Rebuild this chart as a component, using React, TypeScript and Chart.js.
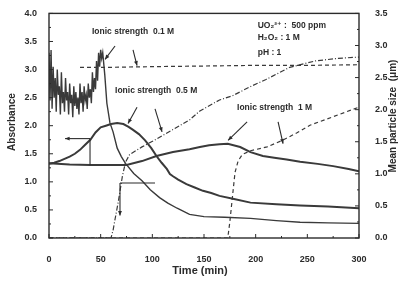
import React, { useEffect, useRef } from "react";
import { Chart, registerables } from "chart.js";

Chart.register(...registerables);

// ---- Data ----
// Absorbance, ionic strength 0.1 M
const abs01Time = [
  0, 1, 2, 3, 4, 5, 6, 7, 8, 9, 10, 11, 12, 13, 14, 15, 16, 17, 18, 19, 20,
  21, 22, 23, 24, 25, 26, 27, 28, 29, 30, 31, 32, 33, 34, 35, 36, 37, 38, 39, 40,
  41, 42, 43, 44, 45, 46, 47, 48, 49, 50, 51, 52, 54, 56, 59, 62, 66, 70, 74, 82, 90,
  98, 107, 115, 124, 136, 150, 170, 195, 220, 243, 270, 300,
];
const abs01 = [
  3.3, 2.45, 3.35, 2.3, 3.05, 2.5, 2.85, 2.25, 3.0, 2.55, 2.7, 2.2, 2.95, 2.4, 2.6, 2.25, 2.85, 2.45, 2.6, 2.2, 2.75,
  2.4, 2.55, 2.15, 2.7, 2.35, 2.6, 2.3, 2.5, 2.2, 2.75, 2.4, 2.6, 2.25, 2.7, 2.45, 2.55, 2.3, 2.75, 2.5, 2.65,
  2.4, 2.95, 2.6, 2.85, 2.65, 3.15, 2.8, 3.3, 3.05, 3.35, 3.2, 3.3, 2.9, 2.4, 2.05, 1.89, 1.6, 1.45, 1.33, 1.15, 1.02,
  0.86, 0.72, 0.62, 0.53, 0.42, 0.38, 0.37, 0.35, 0.31, 0.28, 0.27, 0.26,
];

// Absorbance, ionic strength 0.5 M
const abs05Time = [
  0, 5, 10, 15, 20, 25, 30, 35, 40, 45, 50, 55, 60, 66, 72, 77, 81, 87, 93, 99,
  104, 109, 114, 117, 120, 125, 133, 141, 149, 157, 165, 178, 195, 220, 243, 270, 300,
];
const abs05 = [
  1.32, 1.34, 1.37, 1.41, 1.45, 1.5, 1.57, 1.66, 1.75, 1.88, 1.97, 2.0, 2.03, 2.05, 2.03, 1.98, 1.93, 1.85, 1.74, 1.6,
  1.46, 1.34, 1.23, 1.14, 1.1, 1.04, 0.96, 0.9, 0.84, 0.8, 0.75, 0.7, 0.63, 0.6, 0.58, 0.56, 0.53,
];

// Absorbance, ionic strength 1 M
const abs1Time = [0, 20, 40, 60, 75, 90, 104, 120, 136, 146, 155, 165, 173, 185, 195, 207, 218, 230, 243, 260, 275, 290, 300];
const abs1 = [1.33, 1.31, 1.3, 1.3, 1.3, 1.37, 1.46, 1.53, 1.58, 1.62, 1.65, 1.67, 1.68, 1.62, 1.53, 1.46, 1.43, 1.4, 1.36, 1.32, 1.28, 1.23, 1.19];

// Mean particle size (µm), 0.1 M
const size01Time = [30, 60, 100, 150, 200, 250, 300];
const size01 = [2.66, 2.66, 2.67, 2.68, 2.69, 2.69, 2.7];

// Mean particle size (µm), 0.5 M
const size05Time = [0, 60, 62, 64, 67, 71, 74, 78, 90, 104, 120, 136, 146, 165, 178, 195, 210, 233, 258, 280, 300];
const size05 = [0, 0, 0.12, 0.3, 0.56, 0.96, 1.18, 1.3, 1.42, 1.54, 1.69, 1.84, 1.98, 2.15, 2.22, 2.36, 2.47, 2.66, 2.76, 2.8, 2.82];

// Mean particle size (µm), 1 M
const size1Time = [0, 173, 175, 177, 180, 183, 187, 195, 211, 227, 240, 253, 275, 300];
const size1 = [0, 0, 0.25, 0.56, 1.02, 1.2, 1.3, 1.36, 1.42, 1.53, 1.64, 1.76, 1.89, 2.04];

// Tick values
const xTicks = [0, 50, 100, 150, 200, 250, 300];
const yTicks = [0, 0.5, 1, 1.5, 2, 2.5, 3, 3.5, 4];
const y2Ticks = [0, 0.5, 1, 1.5, 2, 2.5, 3, 3.5];

// Annotation arrows in data units (time, absorbance)
const arrows: number[][] = [
  [63.9, 3.42, 54.2, 3.18],
  [81.3, 3.35, 85.2, 3.07],
  [85.2, 2.33, 76.5, 2.04],
  [102.6, 2.3, 109.4, 1.89],
  [191.7, 2.07, 173.3, 1.74],
  [221.7, 2.07, 226.5, 1.68],
];
// Corner arrows: [cornerT, cornerA, startT, startA, endT, endA]
const cornerLines: number[][] = [
  [39.7, 1.77, 39.7, 1.3, 15.5, 1.77],
  [68.7, 0.98, 102.6, 0.98, 68.7, 0.4],
];
const labels: { text: string; t: number; a: number }[] = [
  { text: "Ionic strength  0.1 M", t: 41.6, a: 3.67 },
  { text: "Ionic strength  0.5 M", t: 63.9, a: 2.63 },
  { text: "Ionic strength  1 M", t: 182, a: 2.32 },
  { text: "UO\u2082\u00B2\u207A :  500 ppm", t: 202, a: 3.79 },
  { text: "H\u2082O\u2082 : 1 M", t: 202, a: 3.56 },
  { text: "pH : 1", t: 202, a: 3.3 },
];

const INK = "#2b2b2b";
const LINE = "#3a3a3a";
const FONT = "'Liberation Sans', Arial, 'DejaVu Sans', sans-serif";

const toXY = (t: number[], v: number[]) => t.map((x, i) => ({ x, y: v[i] }));

function headArrow(ctx: CanvasRenderingContext2D, x1: number, y1: number, x2: number, y2: number) {
  ctx.beginPath();
  ctx.moveTo(x1, y1);
  ctx.lineTo(x2, y2);
  ctx.stroke();
  const a = Math.atan2(y2 - y1, x2 - x1);
  const h = 5;
  ctx.beginPath();
  ctx.moveTo(x2, y2);
  ctx.lineTo(x2 - h * Math.cos(a - 0.4), y2 - h * Math.sin(a - 0.4));
  ctx.lineTo(x2 - h * Math.cos(a + 0.4), y2 - h * Math.sin(a + 0.4));
  ctx.closePath();
  ctx.fill();
}

const decorPlugin = {
  id: "decor",
  afterDatasetsDraw(chart: any) {
    const { ctx, chartArea } = chart;
    const xs = chart.scales.x;
    const ys = chart.scales.y;
    const y2s = chart.scales.y2;
    const { left, right, top, bottom } = chartArea;
    ctx.save();
    ctx.strokeStyle = INK;
    ctx.fillStyle = INK;
    // frame
    ctx.lineWidth = 1.4;
    ctx.strokeRect(left, top, right - left, bottom - top);
    // inward ticks
    ctx.lineWidth = 1;
    ctx.beginPath();
    for (let v = 0; v <= 300; v += 25) {
      const px = xs.getPixelForValue(v);
      const len = v % 50 === 0 ? 4 : 2;
      ctx.moveTo(px, bottom);
      ctx.lineTo(px, bottom - len);
    }
    for (let v = 0; v <= 4.001; v += 0.25) {
      const py = ys.getPixelForValue(v);
      const len = Math.abs(v * 2 - Math.round(v * 2)) < 1e-6 ? 4 : 2;
      ctx.moveTo(left, py);
      ctx.lineTo(left + len, py);
    }
    for (let v = 0; v <= 3.501; v += 0.25) {
      const py = y2s.getPixelForValue(v);
      const len = Math.abs(v * 2 - Math.round(v * 2)) < 1e-6 ? 4 : 2;
      ctx.moveTo(right, py);
      ctx.lineTo(right - len, py);
    }
    ctx.stroke();

    // arrows
    ctx.lineWidth = 1.1;
    for (const [t1, a1, t2, a2] of arrows) {
      headArrow(ctx, xs.getPixelForValue(t1), ys.getPixelForValue(a1), xs.getPixelForValue(t2), ys.getPixelForValue(a2));
    }
    for (const [ct, ca, st, sa, et, ea] of cornerLines) {
      const cx = xs.getPixelForValue(ct);
      const cy = ys.getPixelForValue(ca);
      ctx.beginPath();
      ctx.moveTo(xs.getPixelForValue(st), ys.getPixelForValue(sa));
      ctx.lineTo(cx, cy);
      ctx.stroke();
      headArrow(ctx, cx, cy, xs.getPixelForValue(et), ys.getPixelForValue(ea));
    }

    // labels
    ctx.font = `bold 8.5px ${FONT}`;
    ctx.textAlign = "left";
    ctx.textBaseline = "middle";
    for (const l of labels) {
      ctx.fillText(l.text, xs.getPixelForValue(l.t), ys.getPixelForValue(l.a));
    }

    // axis titles
    ctx.font = `bold 10px ${FONT}`;
    ctx.textAlign = "center";
    ctx.save();
    ctx.translate(12, 122);
    ctx.rotate(-Math.PI / 2);
    ctx.fillText("Absorbance", 0, 0);
    ctx.restore();
    ctx.save();
    ctx.translate(393, 116);
    ctx.rotate(-Math.PI / 2);
    ctx.fillText("Mean particle size  (\u03BCm)", 0, 0);
    ctx.restore();
    ctx.font = `bold 11px ${FONT}`;
    ctx.fillText("Time (min)", 200, 271);
    ctx.restore();
  },
};

export default function App() {
  const ref = useRef<HTMLCanvasElement | null>(null);
  useEffect(() => {
    if (!ref.current) return;
    const tickFont = { family: FONT, size: 9, weight: "bold" as const };
    const chart = new Chart(ref.current, {
      type: "line",
      data: {
        datasets: [
          { data: toXY(abs01Time, abs01), yAxisID: "y", borderColor: LINE, borderWidth: 1.4 },
          { data: toXY(abs05Time, abs05), yAxisID: "y", borderColor: LINE, borderWidth: 2 },
          { data: toXY(abs1Time, abs1), yAxisID: "y", borderColor: LINE, borderWidth: 2 },
          { data: toXY(size01Time, size01), yAxisID: "y2", borderColor: LINE, borderWidth: 1.2, borderDash: [4, 3] },
          { data: toXY(size05Time, size05), yAxisID: "y2", borderColor: LINE, borderWidth: 1.2, borderDash: [5, 2, 1, 2] },
          { data: toXY(size1Time, size1), yAxisID: "y2", borderColor: LINE, borderWidth: 1.2, borderDash: [4, 3] },
        ],
      },
      options: {
        animation: false,
        responsive: false,
        devicePixelRatio: 1,
        parsing: false as any,
        elements: { point: { radius: 0 }, line: { tension: 0 } },
        layout: { padding: { top: 10, left: 0, right: 0, bottom: 0 } },
        plugins: { legend: { display: false }, tooltip: { enabled: false } },
        scales: {
          x: {
            type: "linear",
            min: 0,
            max: 300,
            grid: { display: false },
            border: { display: false },
            afterBuildTicks: (s: any) => { s.ticks = xTicks.map((v) => ({ value: v })); },
            afterFit: (s: any) => { s.height = 45; },
            ticks: { color: INK, font: tickFont, padding: 8, maxRotation: 0 },
          },
          y: {
            type: "linear",
            position: "left",
            min: 0,
            max: 4,
            grid: { display: false },
            border: { display: false },
            afterBuildTicks: (s: any) => { s.ticks = yTicks.map((v) => ({ value: v })); },
            afterFit: (s: any) => { s.width = 49; },
            ticks: { color: INK, font: tickFont, padding: 4, callback: (v: any) => Number(v).toFixed(1) },
          },
          y2: {
            type: "linear",
            position: "right",
            min: 0,
            max: 3.5,
            grid: { display: false },
            border: { display: false },
            afterBuildTicks: (s: any) => { s.ticks = y2Ticks.map((v) => ({ value: v })); },
            afterFit: (s: any) => { s.width = 42; },
            ticks: { color: INK, font: tickFont, padding: 8, callback: (v: any) => Number(v).toFixed(1) },
          },
        },
      },
      plugins: [decorPlugin],
    } as any);
    return () => chart.destroy();
  }, []);
  return (
    <div style={{ position: "absolute", left: 0, top: 0, width: 401, height: 283, background: "#fff" }}>
      <canvas ref={ref} width={401} height={283} style={{ display: "block", width: 401, height: 283 }} />
    </div>
  );
}
